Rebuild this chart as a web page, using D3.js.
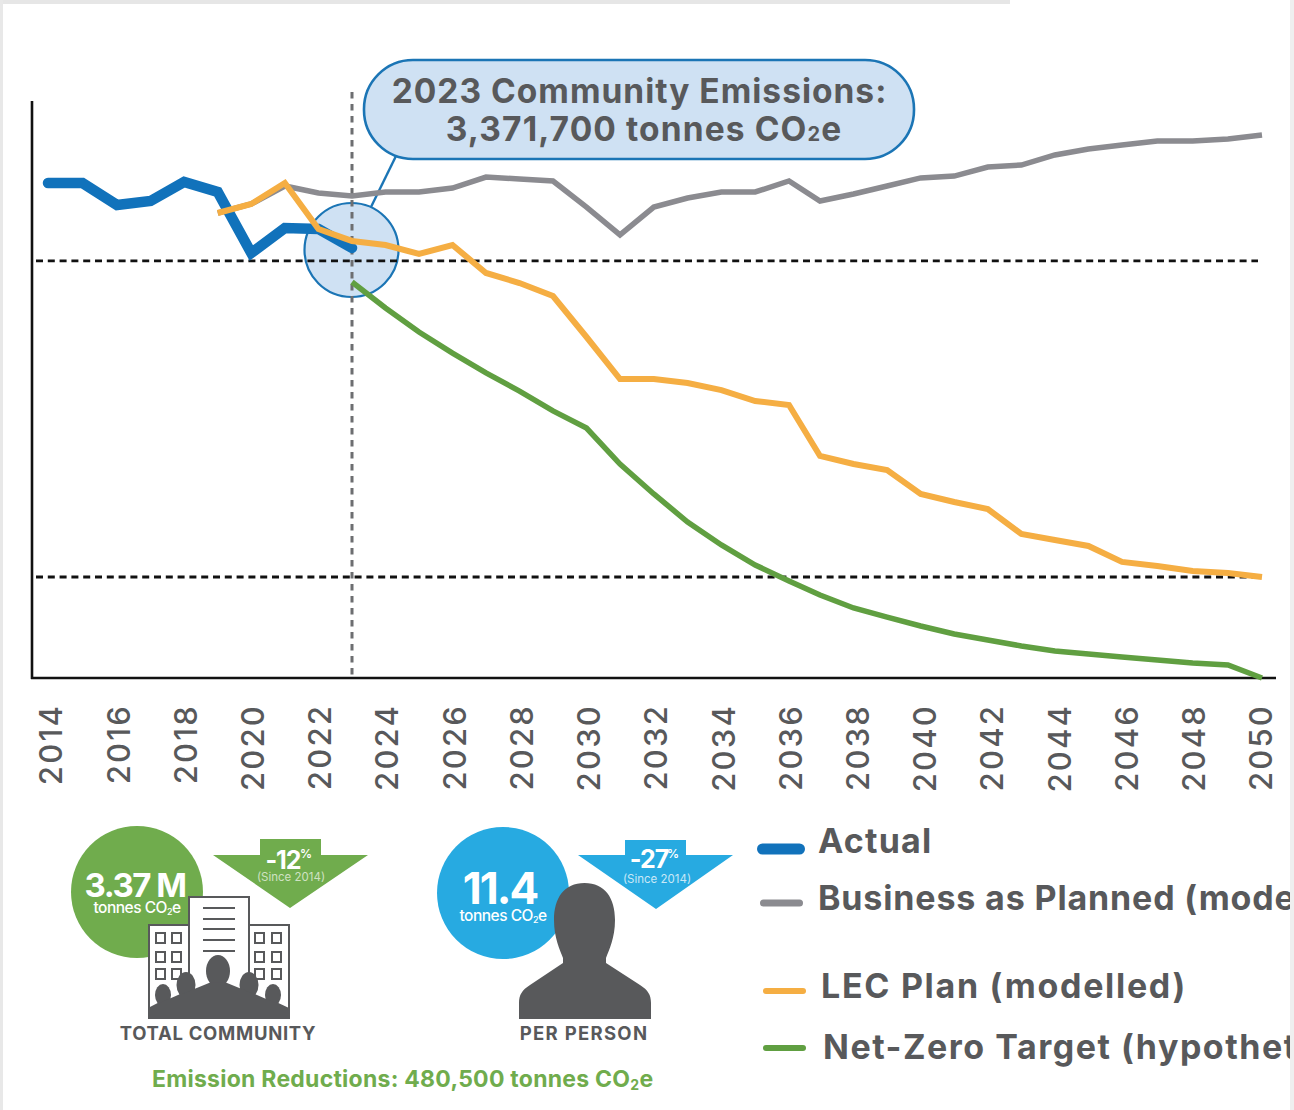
<!DOCTYPE html>
<html><head><meta charset="utf-8">
<script src="https://cdnjs.cloudflare.com/ajax/libs/d3/7.8.5/d3.min.js"></script>
<style>html,body{margin:0;padding:0;background:#fff;overflow:hidden}svg{display:block}text{font-family:Inter,"Open Sans",sans-serif}</style>
</head><body><svg id="c" width="1294" height="1110"></svg>
<script>
// Emissions in million tonnes CO2e
const actualYears=d3.range(2014,2024);
const actual=[3.881,3.881,3.709,3.740,3.889,3.811,3.332,3.528,3.521,3.372];
const modelYears=d3.range(2019,2051);
const business=[3.646,3.717,3.858,3.803,3.779,3.811,3.811,3.842,3.928,3.913,3.897,3.693,3.474,3.693,3.764,3.811,3.811,3.897,3.740,3.795,3.858,3.921,3.936,4.007,4.022,4.101,4.148,4.179,4.211,4.211,4.226,4.258];
const lecPlan=[3.646,3.717,3.881,3.521,3.427,3.395,3.325,3.395,3.176,3.097,2.995,2.674,2.344,2.344,2.313,2.258,2.172,2.141,1.741,1.678,1.631,1.443,1.380,1.325,1.129,1.082,1.035,0.910,0.878,0.839,0.823,0.792];
const targetYears=d3.range(2023,2051);
const netZero=[3.105,2.901,2.713,2.548,2.392,2.250,2.094,1.960,1.678,1.443,1.223,1.043,0.886,0.761,0.651,0.549,0.478,0.408,0.345,0.298,0.251,0.212,0.188,0.165,0.141,0.118,0.102,0];
const tickYears=d3.range(2014,2051,2);
const refLevels=[3.27,0.792];
const legendLabels=["Actual","Business as Planned (modelled)","LEC Plan (modelled)","Net-Zero Target (hypothetical)"];

const BLUE="#1172bb",GRAY="#8b8b90",ORANGE="#f5ae43",GREEN="#609f41",TEXT="#58595b",PALE="#cfe1f3",STROKE="#1b75b5",LGREEN="#70ac4d",CYAN="#27aae1",DARK="#58595b";
const svg=d3.select("#c");
const x=d3.scaleLinear().domain([2014,2016,2023,2031,2036,2037,2046,2049,2050]).range([48,117,352,620,789,820,1122,1228,1262]);
const labelX=d3.scaleLinear().domain([2014,2050]).range([51,1261]);
const y=d3.scaleLinear().domain([0,3.3717]).range([678,248]);
const line=d3.line().x(d=>x(d[0])).y(d=>y(d[1]));
const zip=(a,b)=>a.map((v,i)=>[v,b[i]]);

// scan edges
svg.append("rect").attr("width",1010).attr("height",4).attr("fill","#e6e6e6");
svg.append("rect").attr("width",3).attr("height",1110).attr("fill","#e8e8e8");
svg.append("rect").attr("x",1290).attr("y",0).attr("width",4).attr("height",1110).attr("fill","#efefef");

// axes
const xAxis=d3.axisBottom(labelX).tickValues(tickYears).tickFormat(d3.format("d")).tickSize(0);
const gx=svg.append("g").attr("transform","translate(0,678)").call(xAxis);
gx.select(".domain").remove();
gx.selectAll("text").attr("transform","translate(0,26) rotate(-90)")
  .attr("x",0).attr("y",0).attr("dy","0.35em").attr("text-anchor","end")
  .attr("font-size",31).attr("font-weight",500).attr("fill",TEXT).attr("letter-spacing",2.2);
svg.append("line").attr("x1",31).attr("x2",1276).attr("y1",678).attr("y2",678).attr("stroke","#111").attr("stroke-width",2.6);
svg.append("line").attr("x1",32).attr("x2",32).attr("y1",101).attr("y2",679).attr("stroke","#111").attr("stroke-width",2.6);

// callout circle + leader
svg.append("line").attr("x1",371).attr("y1",207).attr("x2",396).attr("y2",156).attr("stroke",STROKE).attr("stroke-width",2.4);
svg.append("circle").attr("cx",351.5).attr("cy",250).attr("r",47).attr("fill",PALE).attr("stroke",STROKE).attr("stroke-width",2.2);

// reference lines
refLevels.forEach(v=>svg.append("line").attr("x1",36).attr("x2",1258).attr("y1",y(v)).attr("y2",y(v))
  .attr("stroke","#111").attr("stroke-width",2.8).attr("stroke-dasharray","7 4.8"));

// vertical marker
svg.append("line").attr("x1",x(2023)).attr("x2",x(2023)).attr("y1",92).attr("y2",678)
  .attr("stroke","#6d6e71").attr("stroke-width",3).attr("stroke-dasharray","6.5 5.5");

// series
const draw=(d,c,w,cap)=>svg.append("path").datum(d).attr("d",line).attr("fill","none").attr("stroke",c).attr("stroke-width",w).attr("stroke-linejoin","miter").attr("stroke-linecap",cap);
draw(zip(modelYears,business),GRAY,5.5,"butt");
draw(zip(actualYears,actual),BLUE,10.5,"round");
draw(zip(modelYears,lecPlan),ORANGE,6,"butt");
draw(zip(targetYears,netZero),GREEN,5.5,"butt");

// callout bubble
svg.append("rect").attr("x",364).attr("y",60).attr("width",550).attr("height",99).attr("rx",49).attr("ry",49).attr("fill",PALE).attr("stroke",STROKE).attr("stroke-width",2.6);
const t=(s,xx,yy,size,weight,fill,anchor)=>svg.append("text").attr("x",xx).attr("y",yy).attr("font-size",size).attr("font-weight",weight).attr("fill",fill).attr("text-anchor",anchor||"start").text(s);
t("2023 Community Emissions:",639.5,103,33.5,700,TEXT,"middle").attr("letter-spacing",1);
const l2=t("3,371,700 tonnes CO",644,141,33.5,700,TEXT,"middle").attr("letter-spacing",1.1);
l2.append("tspan").attr("font-size",20).text("2");
l2.append("tspan").text("e");

// legend
const legendG=svg.append("g").attr("clip-path","url(#lc)");
svg.append("clipPath").attr("id","lc").append("rect").attr("width",1290).attr("height",1110);
const legendX=[818,818,821,823],legendY=[853,910,998,1059],swY=[849,903,991,1048],swX=[[757,805],[760,803],[763,806],[763,806]],swW=[11,7,6,6],legendLs=[1.2,0.85,1.7,1.5];
const legendC=[BLUE,GRAY,ORANGE,GREEN];
legendLabels.forEach((s,i)=>{
  legendG.append("line").attr("x1",swX[i][0]+swW[i]/2).attr("x2",swX[i][1]-swW[i]/2).attr("y1",swY[i]).attr("y2",swY[i]).attr("stroke",legendC[i]).attr("stroke-width",swW[i]).attr("stroke-linecap","round");
  legendG.append("text").attr("x",legendX[i]).attr("y",legendY[i]).attr("font-size",34).attr("font-weight",700).attr("fill",TEXT).attr("letter-spacing",legendLs[i]).text(s);
});

// infographics: total community
svg.append("ellipse").attr("cx",137).attr("cy",892).attr("rx",66).attr("ry",66).attr("fill",LGREEN);
svg.append("path").attr("d","M213 855H260V839H321V855H368L290 908Z").attr("fill",LGREEN);
t("3.37 M",135,897,33,700,"#fff","middle").attr("letter-spacing",-1.5);
const tc=t("tonnes CO",137,913,15.5,500,"#fff","middle").attr("letter-spacing",-.5);
tc.append("tspan").attr("font-size",9).attr("dy",2).text("2");tc.append("tspan").attr("dy",-2).text("e");
t("-12",283,869,25,700,"#fff","middle").attr("letter-spacing",-1);
t("%",306,858,12,600,"#fff","middle");
t("(Since 2014)",291,881,11.5,400,"#cfe2c2","middle");

// buildings
const bg=svg.append("g");
const box=(xx,yy,w,h)=>bg.append("rect").attr("x",xx).attr("y",yy).attr("width",w).attr("height",h).attr("fill","#fff").attr("stroke",DARK).attr("stroke-width",2);
box(149,925,140,93);
box(189,897,60,121);
[156,172].forEach(xx=>[933,952,969].forEach(yy=>box(xx,yy,9,10)));
[255,272].forEach(xx=>[933,952,969].forEach(yy=>box(xx,yy,9,10)));
[908,919,929,940,951].forEach(yy=>bg.append("line").attr("x1",203).attr("x2",235).attr("y1",yy).attr("y2",yy).attr("stroke",DARK).attr("stroke-width",2));
const person=(cx,top,hw,hh,sw,bottom,sy)=>{
  bg.append("ellipse").attr("cx",cx).attr("cy",top+hh).attr("rx",hw).attr("ry",hh).attr("fill",DARK);
  bg.append("path").attr("d",`M${cx-hw*.6} ${top+hh*1.7}L${cx-sw} ${sy}V${bottom}H${cx+sw}V${sy}L${cx+hw*.6} ${top+hh*1.7}Z`).attr("fill",DARK);
};
person(163,984,8,11,15,1018,1008);
person(273,984,8,11,16,1018,1008);
person(186,972,9.5,13,24,1018,1002);
person(249,972,9.5,13,24,1018,1002);
person(218,955,12,16,36,1018,994);
t("TOTAL COMMUNITY",218,1040,18.5,700,TEXT,"middle").attr("letter-spacing",.7);

// per person
svg.append("ellipse").attr("cx",503).attr("cy",893).attr("rx",66).attr("ry",66).attr("fill",CYAN);
svg.append("path").attr("d","M578 855H625V840H686V855H733L656 909Z").attr("fill",CYAN);
t("11.4",500,904,44,700,"#fff","middle").attr("letter-spacing",-2);
const tp=t("tonnes CO",503,921,15.5,500,"#fff","middle").attr("letter-spacing",-.5);
tp.append("tspan").attr("font-size",9).attr("dy",2).text("2");tp.append("tspan").attr("dy",-2).text("e");
t("-27",649,868,25,700,"#fff","middle").attr("letter-spacing",-1);
t("%",673,858,12,600,"#fff","middle");
t("(Since 2014)",657,883,11.5,400,"#c9e8f7","middle");
svg.append("path").attr("d","M584.5 883C605 883 615 898 615 920C615 938 609 950 606 958V963L640 985C648 990 651 995 651 1003V1019H519V1003C519 995 522 990 530 985L563 963V958C560 950 554 938 554 920C554 898 564 883 584.5 883Z").attr("fill",DARK);
t("PER PERSON",584,1040,18.5,700,TEXT,"middle").attr("letter-spacing",1.3);

const er=t("Emission Reductions: 480,500 tonnes CO",152,1087,23,700,LGREEN).attr("letter-spacing",.25);
er.append("tspan").attr("font-size",14).attr("dy",3).text("2");er.append("tspan").attr("dy",-3).text("e");
</script></body></html>
